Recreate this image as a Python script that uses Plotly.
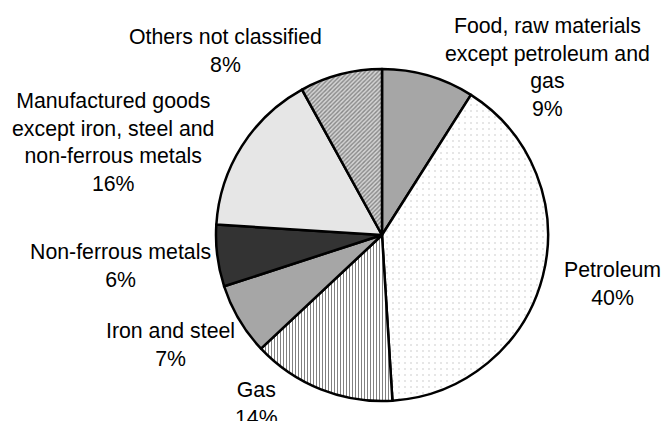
import plotly.graph_objects as go

categories = [
    "Food, raw materials<br>except petroleum and<br>gas",
    "Petroleum",
    "Gas",
    "Iron and steel",
    "Non-ferrous metals",
    "Manufactured goods<br>except iron, steel and<br>non-ferrous metals",
    "Others not classified",
]
values = [9, 40, 14, 7, 6, 16, 8]

# label block centres (layout only, in pixels)
label_x = [547, 612, 256, 170, 120, 113, 225]
label_y = [68, 284, 404, 345, 266, 142, 51]

fill_colors = ["#a6a6a6", "#ffffff", "#ffffff", "#a6a6a6", "#333333", "#e6e6e6", "#d4d4d4"]
pattern_shapes = ["", ".", "|", "", "", "", "/"]
pattern_fg = ["#000000", "#8c8c8c", "#000000", "#000000", "#000000", "#000000", "#3a3a3a"]
pattern_size = [6, 6, 3, 6, 6, 6, 3]
pattern_solidity = [0.3, 0.06, 0.33, 0.3, 0.3, 0.3, 0.45]

W, H = 662, 421
cx, cy, r = 382, 235, 166
FONT = "Liberation Sans, Arial, sans-serif"

fig = go.Figure(go.Pie(
    labels=categories,
    values=values,
    sort=False,
    direction="clockwise",
    rotation=0,
    textinfo="none",
    marker=dict(
        colors=fill_colors,
        line=dict(color="#000000", width=2.5),
        pattern=dict(
            shape=pattern_shapes,
            fgcolor=pattern_fg,
            bgcolor=fill_colors,
            size=pattern_size,
            solidity=pattern_solidity,
            fillmode="overlay",
        ),
    ),
    domain=dict(x=[(cx - r) / W, (cx + r) / W], y=[1 - (cy + r) / H, 1 - (cy - r) / H]),
    showlegend=False,
    automargin=False,
    hoverinfo="none",
))

total = sum(values)
for lab, v, lx, ly in zip(categories, values, label_x, label_y):
    fig.add_annotation(
        x=lx / W, y=1 - ly / H, xref="paper", yref="paper",
        text=f"{lab}<br>{round(v / total * 100)}%",
        showarrow=False, xanchor="center", yanchor="middle", align="center",
        font=dict(family=FONT, size=21.3, color="#000000"),
    )

fig.update_layout(
    width=W, height=H,
    margin=dict(l=0, r=0, t=0, b=0),
    paper_bgcolor="#ffffff",
    plot_bgcolor="#ffffff",
    font=dict(family=FONT, size=21.3, color="#000000"),
)

fig.write_html(
    "out.html",
    config={"displayModeBar": False},
    post_script="document.body.style.margin='0';document.body.style.overflow='hidden';",
)
